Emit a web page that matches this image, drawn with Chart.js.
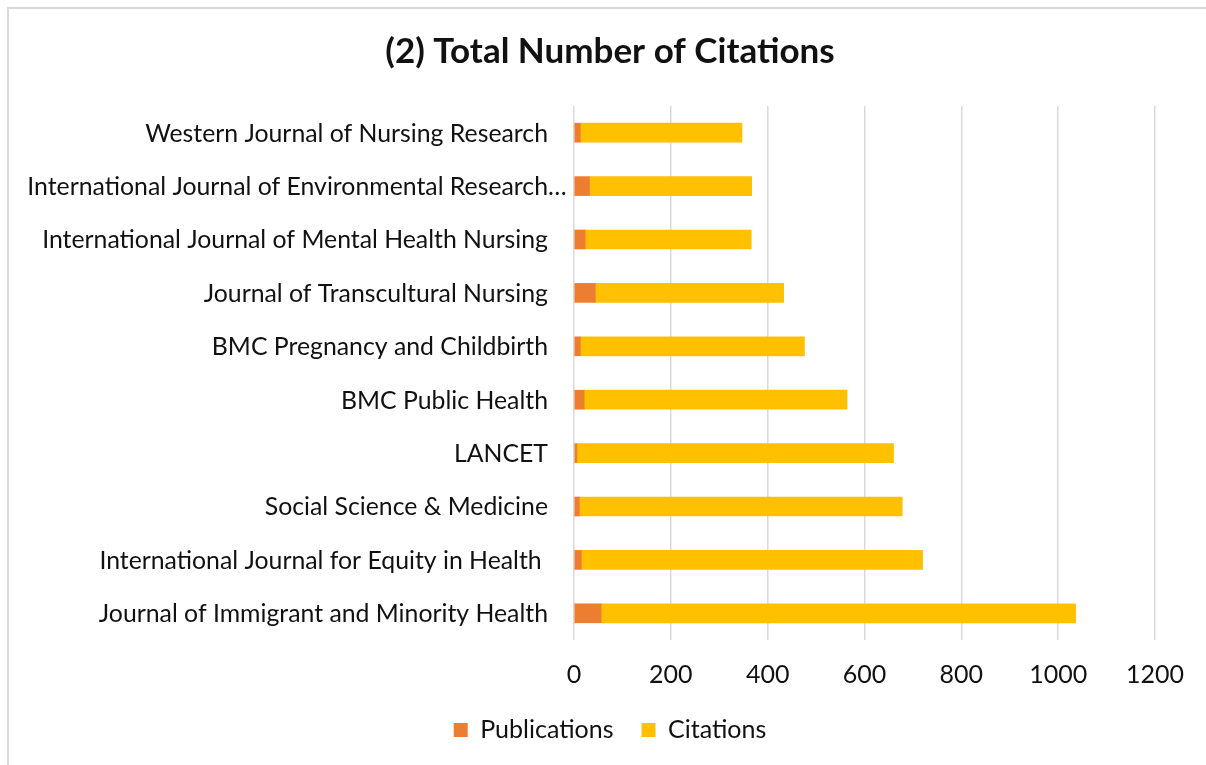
<!DOCTYPE html>
<html>
<head>
<meta charset="utf-8">
<script src="https://cdn.jsdelivr.net/npm/chart.js@4.4.1/dist/chart.umd.min.js"></script>
<style>
  html, body { margin: 0; padding: 0; background: #fff; }
  #wrap { position: relative; width: 1206px; height: 765px; overflow: hidden; }
  #frame { position: absolute; left: 7px; top: 7px; width: 1220px; height: 800px; border: 2px solid #d9d9d9; box-sizing: border-box; }
  canvas { position: absolute; left: 0; top: 0; }
</style>
</head>
<body>
<div id="wrap">
  <div id="frame"></div>
  <canvas id="c" width="1206" height="765"></canvas>
</div>
<script>
const categories = [
  "Western Journal of Nursing Research",
  "International Journal of Environmental Research\u2026",
  "International Journal of Mental Health Nursing",
  "Journal of Transcultural Nursing",
  "BMC Pregnancy and Childbirth",
  "BMC Public Health",
  "LANCET",
  "Social Science & Medicine",
  "International Journal for Equity in Health ",
  "Journal of Immigrant and Minority Health"
];
const publications = [13, 32, 23, 44, 13, 21, 6, 11, 15, 56];
const citations = [334, 335, 343, 389, 463, 543, 654, 667, 705, 980];
const xTicks = [0, 200, 400, 600, 800, 1000, 1200];

const FONT = "Lato";
const textColor = "#111";
const LABEL_FONT_SIZE = 24.8;
const LABEL_GAP = 26;

// Draws the category labels of the y scale, right-aligned; a trailing
// ellipsis (Excel-style truncation) hangs past the alignment edge.
const categoryLabels = {
  id: "categoryLabels",
  afterDraw(chart) {
    const y = chart.scales.y;
    const ctx = chart.ctx;
    ctx.save();
    ctx.font = LABEL_FONT_SIZE + "px " + FONT;
    ctx.fillStyle = textColor;
    ctx.textAlign = "right";
    ctx.textBaseline = "middle";
    const edge = y.right - LABEL_GAP;
    chart.data.labels.forEach((lab, i) => {
      let x = edge;
      if (lab.endsWith("\u2026")) x += ctx.measureText("\u2026").width;
      ctx.fillText(lab, x, y.getPixelForValue(i) + 1);
    });
    ctx.restore();
  }
};

new Chart(document.getElementById("c"), {
  type: "bar",
  data: {
    labels: categories,
    datasets: [
      { label: "Publications", data: publications, backgroundColor: "#ED7D31", barThickness: 19 },
      { label: "Citations", data: citations, backgroundColor: "#FFC000", barThickness: 19 }
    ]
  },
  plugins: [categoryLabels],
  options: {
    indexAxis: "y",
    responsive: false,
    animation: false,
    layout: { padding: { left: 65, right: 51, top: 0, bottom: 12.5 } },
    plugins: {
      title: {
        display: true,
        text: "(2) Total Number of Citations",
        color: textColor,
        font: { family: FONT, size: 35, weight: "bold" },
        padding: { top: 31, bottom: 33 }
      },
      legend: {
        position: "bottom",
        labels: {
          color: textColor,
          font: { family: FONT, size: 25 },
          boxWidth: 14,
          boxHeight: 14,
          padding: 28
        }
      },
      tooltip: { enabled: false }
    },
    scales: {
      x: {
        stacked: true,
        min: 0,
        max: 1200,
        afterBuildTicks: (s) => { s.ticks = xTicks.map(v => ({ value: v })); },
        afterFit: (s) => { s.height = 49.5; },
        grid: { color: "#d9d9d9", lineWidth: 1.5, drawTicks: false },
        border: { display: false },
        ticks: { color: textColor, font: { family: FONT, size: 25 }, padding: 20, callback: (v) => String(v) }
      },
      y: {
        stacked: true,
        afterFit: (s) => { s.width = 509; },
        grid: { display: false, drawTicks: false },
        border: { display: false },
        ticks: { display: false }
      }
    }
  }
});
</script>
</body>
</html>
